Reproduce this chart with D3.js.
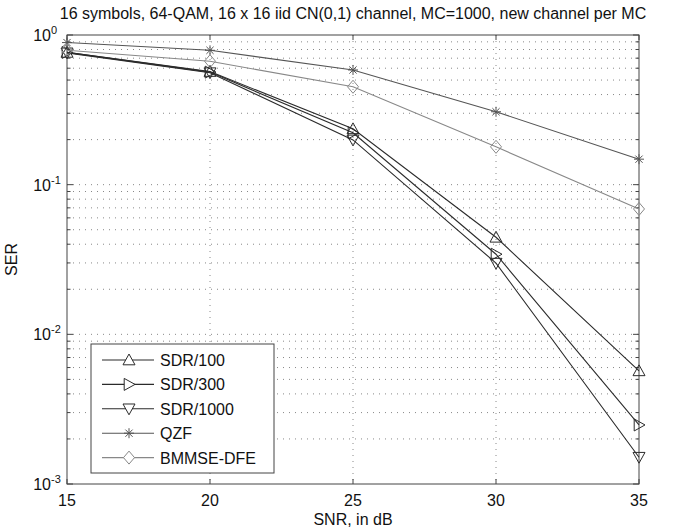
<!DOCTYPE html>
<html><head><meta charset="utf-8">
<script src="https://cdn.jsdelivr.net/npm/d3@7/dist/d3.min.js"></script>
<style>
body{margin:0;background:#fff;}
text{font-family:"Liberation Sans",Arial,Helvetica,sans-serif;fill:#111;}
</style></head>
<body><svg id="c" width="681" height="531"></svg>
<script>
const snr = [15, 20, 25, 30, 35];
const sdr100 = [0.765, 0.57, 0.236, 0.0445, 0.0057];
const sdr300 = [0.765, 0.565, 0.222, 0.0343, 0.00248];
const sdr1000 = [0.76, 0.56, 0.199, 0.0299, 0.00151];
const qzf = [0.89, 0.79, 0.584, 0.307, 0.148];
const bmmse = [0.79, 0.668, 0.451, 0.179, 0.0688];
const seriesNames = ["SDR/100", "SDR/300", "SDR/1000", "QZF", "BMMSE-DFE"];
const xTicks = [15, 20, 25, 30, 35];
const yDecades = [-3, -2, -1, 0];
const title = "16 symbols, 64-QAM, 16 x 16 iid CN(0,1) channel, MC=1000, new channel per MC";

const series = [
  {name: seriesNames[0], vals: sdr100, color: "#2b2b2b", marker: "up"},
  {name: seriesNames[1], vals: sdr300, color: "#2b2b2b", marker: "right"},
  {name: seriesNames[2], vals: sdr1000, color: "#2b2b2b", marker: "down"},
  {name: seriesNames[3], vals: qzf, color: "#555", marker: "star"},
  {name: seriesNames[4], vals: bmmse, color: "#888", marker: "diamond"}
];

const L = 67, R = 639, T = 35, B = 484;
const svg = d3.select("#c");
const x = d3.scaleLinear().domain([15, 35]).range([L, R]);
const y = d3.scaleLog().domain([1e-3, 1]).range([B, T]);

// grid
const minor = [];
for (let e = -3; e < 0; e++) for (let m = 1; m <= 9; m++) minor.push(m * Math.pow(10, e));
const g = svg.append("g");
g.selectAll("line.hg").data(minor.filter(v => v > 1e-3)).join("line")
  .attr("x1", L).attr("x2", R).attr("y1", d => y(d)).attr("y2", d => y(d))
  .attr("stroke", "#888").attr("stroke-width", 1).attr("stroke-dasharray", "1,5");
g.selectAll("line.vg").data(xTicks.slice(1, -1)).join("line")
  .attr("y1", T).attr("y2", B).attr("x1", d => x(d)).attr("x2", d => x(d))
  .attr("stroke", "#888").attr("stroke-width", 1).attr("stroke-dasharray", "1,5");

// axes ticks
const ax = svg.append("g").attr("stroke", "#444").attr("stroke-width", 1);
xTicks.forEach(t => {
  ax.append("line").attr("x1", x(t)).attr("x2", x(t)).attr("y1", B).attr("y2", B - 5);
  ax.append("line").attr("x1", x(t)).attr("x2", x(t)).attr("y1", T).attr("y2", T + 5);
});
minor.concat([1]).forEach(v => {
  const len = (Math.abs(Math.log10(v) - Math.round(Math.log10(v))) < 1e-9) ? 6 : 3.5;
  ax.append("line").attr("x1", L).attr("x2", L + len).attr("y1", y(v)).attr("y2", y(v));
  ax.append("line").attr("x1", R).attr("x2", R - len).attr("y1", y(v)).attr("y2", y(v));
});
svg.append("rect").attr("x", L).attr("y", T).attr("width", R - L).attr("height", B - T)
  .attr("fill", "none").attr("stroke", "#444").attr("stroke-width", 1);

// x tick labels
svg.append("g").selectAll("text").data(xTicks).join("text")
  .attr("x", d => x(d)).attr("y", 506).attr("text-anchor", "middle")
  .attr("font-size", 16).text(d => d);
// y tick labels
yDecades.forEach(e => {
  const t = svg.append("text").attr("x", 51).attr("y", y(Math.pow(10, e)) + 6)
    .attr("text-anchor", "end").attr("font-size", 16).text("10");
  svg.append("text").attr("x", 51).attr("y", y(Math.pow(10, e)) - 1)
    .attr("font-size", 11).text(String(e));
});
svg.append("text").attr("x", (L + R) / 2).attr("y", 525).attr("text-anchor", "middle")
  .attr("font-size", 16).text("SNR, in dB");
svg.append("text").attr("transform", `translate(17,${(T + B) / 2}) rotate(-90)`)
  .attr("text-anchor", "middle").attr("font-size", 16).text("SER");
svg.append("text").attr("x", (L + R) / 2).attr("y", 19).attr("text-anchor", "middle")
  .attr("font-size", 16).text(title);

function markerPath(type) {
  const s = 6;
  switch (type) {
    case "up": return `M0,${-s}L${s},${s*0.8}L${-s},${s*0.8}Z`;
    case "down": return `M0,${s}L${s},${-s*0.8}L${-s},${-s*0.8}Z`;
    case "right": return `M${s},0L${-s*0.8},${s}L${-s*0.8},${-s}Z`;
    case "diamond": return `M0,${-6.5}L5.5,0L0,6.5L-5.5,0Z`;
    case "star": {
      const r = 5, d = r * 0.72;
      return `M${-r},0L${r},0M0,${-r}L0,${r}M${-d},${-d}L${d},${d}M${-d},${d}L${d},${-d}`;
    }
  }
}

const line = d3.line().x((d, i) => x(snr[i])).y(d => y(d));
const plot = svg.append("g");
series.forEach(s => {
  plot.append("path").attr("d", line(s.vals)).attr("fill", "none")
    .attr("stroke", s.color).attr("stroke-width", 1.1);
  plot.selectAll(null).data(s.vals).join("path")
    .attr("transform", (d, i) => `translate(${x(snr[i])},${y(d)})`)
    .attr("d", markerPath(s.marker)).attr("fill", "none")
    .attr("stroke", s.color).attr("stroke-width", 1);
});

// legend
const lg = svg.append("g");
lg.append("rect").attr("x", 91).attr("y", 344).attr("width", 183).attr("height", 129)
  .attr("fill", "#fff").attr("stroke", "#444").attr("stroke-width", 1);
series.forEach((s, i) => {
  const yy = 360 + i * 24.4;
  lg.append("line").attr("x1", 102).attr("x2", 154).attr("y1", yy).attr("y2", yy)
    .attr("stroke", s.color).attr("stroke-width", 1.1);
  lg.append("path").attr("transform", `translate(129,${yy})`).attr("d", markerPath(s.marker))
    .attr("fill", "#fff").attr("stroke", s.color).attr("stroke-width", 1);
  lg.append("text").attr("x", 160).attr("y", yy + 6).attr("font-size", 16).text(s.name);
});
</script></body></html>
